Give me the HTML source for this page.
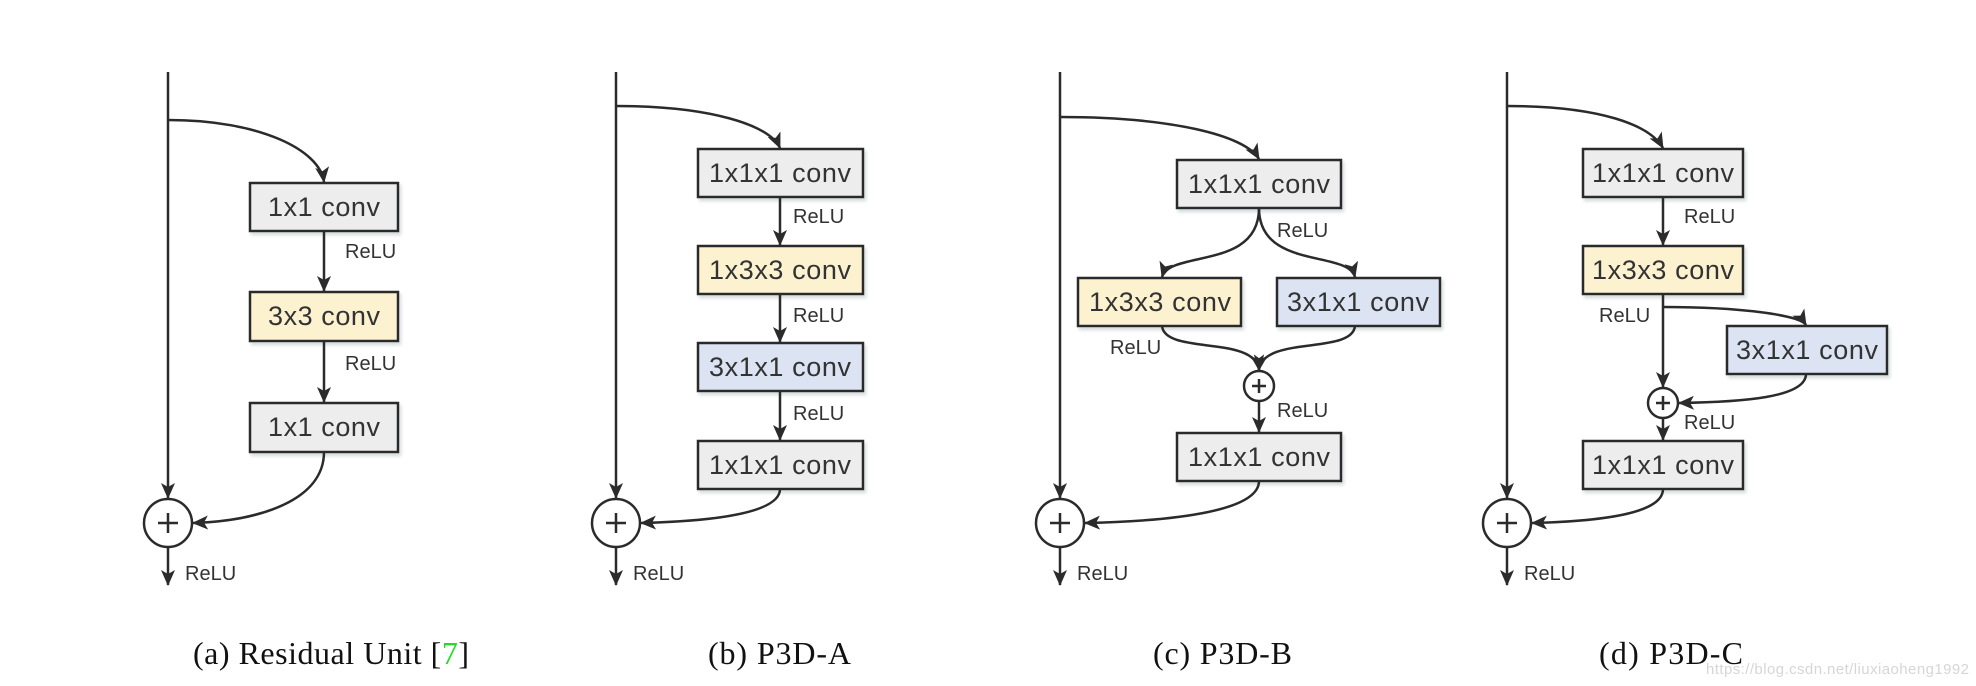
<!DOCTYPE html>
<html><head><meta charset="utf-8"><style>
html,body{margin:0;padding:0;background:#fff;}
svg{display:block;}
.b{stroke:#2b2b2b;stroke-width:2.5;}
.g{fill:#ededed}.y{fill:#fdf2d0}.u{fill:#dce3f3}
.t{font-family:"Liberation Sans Narrow","Liberation Sans",sans-serif;font-size:27px;fill:#333;text-anchor:middle;}
.r{font-family:"Liberation Sans Narrow","Liberation Sans",sans-serif;font-size:20px;fill:#333;}
.c{font-family:"Liberation Serif",serif;font-size:32px;fill:#111;}
.l{fill:none;stroke:#2b2b2b;stroke-width:2.5;}
</style></head><body>
<svg width="1976" height="686" viewBox="0 0 1976 686" xmlns="http://www.w3.org/2000/svg">
<defs>
<marker id="a" markerWidth="16" markerHeight="14" refX="15" refY="7" orient="auto" markerUnits="userSpaceOnUse">
<path d="M0,0 L16,7 L0,14 L4,7 Z" fill="#2b2b2b"/></marker>
<filter id="s" x="-5%" y="-5%" width="115%" height="125%"><feDropShadow dx="2" dy="3" stdDeviation="1.5" flood-color="#9aa" flood-opacity="0.4"/></filter>
</defs>

<!-- (a) -->
<line class="l" x1="168" y1="72" x2="168" y2="498" marker-end="url(#a)"/>
<circle class="l" cx="168" cy="523" r="24"/>
<path class="l" d="M158,523 H178 M168,513 V533"/>
<line class="l" x1="168" y1="547" x2="168" y2="585" marker-end="url(#a)"/>
<text class="r" x="185" y="580">ReLU</text>
<path class="l" d="M168,120 C260,120 320,150 324,182" marker-end="url(#a)"/>
<rect class="b g" x="250" y="183" width="148" height="48" filter="url(#s)"/>
<text class="t" x="324" y="216" textLength="112">1x1 conv</text>
<line class="l" x1="324" y1="231" x2="324" y2="291" marker-end="url(#a)"/>
<text class="r" x="345" y="258">ReLU</text>
<rect class="b y" x="250" y="292" width="148" height="49" filter="url(#s)"/>
<text class="t" x="324" y="325" textLength="112">3x3 conv</text>
<line class="l" x1="324" y1="341" x2="324" y2="402" marker-end="url(#a)"/>
<text class="r" x="345" y="370">ReLU</text>
<rect class="b g" x="250" y="403" width="148" height="49" filter="url(#s)"/>
<text class="t" x="324" y="436" textLength="112">1x1 conv</text>
<path class="l" d="M324,452 C324,500 260,521 193,523" marker-end="url(#a)"/>
<text class="c" x="193" y="664" textLength="276">(a)  Residual Unit [<tspan fill="#22dd22">7</tspan>]</text>

<!-- (b) -->
<line class="l" x1="616" y1="72" x2="616" y2="498" marker-end="url(#a)"/>
<circle class="l" cx="616" cy="523" r="24"/>
<path class="l" d="M606,523 H626 M616,513 V533"/>
<line class="l" x1="616" y1="547" x2="616" y2="585" marker-end="url(#a)"/>
<text class="r" x="633" y="580">ReLU</text>
<path class="l" d="M616,106 C710,106 770,125 780,148" marker-end="url(#a)"/>
<rect class="b g" x="698" y="149" width="165" height="48" filter="url(#s)"/>
<text class="t" x="780" y="182" textLength="142">1x1x1 conv</text>
<line class="l" x1="780" y1="197" x2="780" y2="245" marker-end="url(#a)"/>
<text class="r" x="793" y="223">ReLU</text>
<rect class="b y" x="698" y="246" width="165" height="48" filter="url(#s)"/>
<text class="t" x="780" y="279" textLength="142">1x3x3 conv</text>
<line class="l" x1="780" y1="294" x2="780" y2="342" marker-end="url(#a)"/>
<text class="r" x="793" y="322">ReLU</text>
<rect class="b u" x="698" y="343" width="165" height="48" filter="url(#s)"/>
<text class="t" x="780" y="376" textLength="142">3x1x1 conv</text>
<line class="l" x1="780" y1="391" x2="780" y2="440" marker-end="url(#a)"/>
<text class="r" x="793" y="420">ReLU</text>
<rect class="b g" x="698" y="441" width="165" height="48" filter="url(#s)"/>
<text class="t" x="780" y="474" textLength="142">1x1x1 conv</text>
<path class="l" d="M780,489 C780,512 720,521 641,523" marker-end="url(#a)"/>
<text class="c" x="708" y="664" textLength="143">(b)  P3D-A</text>

<!-- (c) -->
<line class="l" x1="1060" y1="72" x2="1060" y2="498" marker-end="url(#a)"/>
<circle class="l" cx="1060" cy="523" r="24"/>
<path class="l" d="M1050,523 H1070 M1060,513 V533"/>
<line class="l" x1="1060" y1="547" x2="1060" y2="585" marker-end="url(#a)"/>
<text class="r" x="1077" y="580">ReLU</text>
<path class="l" d="M1060,117 C1170,117 1245,135 1259,159" marker-end="url(#a)"/>
<rect class="b g" x="1177" y="160" width="164" height="48" filter="url(#s)"/>
<text class="t" x="1259" y="193" textLength="142">1x1x1 conv</text>
<text class="r" x="1277" y="237">ReLU</text>
<path class="l" d="M1259,208 C1259,270 1170,250 1162,277" marker-end="url(#a)"/>
<path class="l" d="M1259,208 C1259,270 1348,250 1355,277" marker-end="url(#a)"/>
<rect class="b y" x="1078" y="278" width="163" height="48" filter="url(#s)"/>
<text class="t" x="1160" y="311" textLength="142">1x3x3 conv</text>
<rect class="b u" x="1277" y="278" width="163" height="48" filter="url(#s)"/>
<text class="t" x="1358" y="311" textLength="142">3x1x1 conv</text>
<text class="r" x="1110" y="354">ReLU</text>
<path class="l" d="M1162,326 C1165,355 1255,335 1259,370" marker-end="url(#a)"/>
<path class="l" d="M1355,326 C1352,355 1263,335 1259,370" marker-end="url(#a)"/>
<circle class="l" cx="1259" cy="386" r="15"/>
<path class="l" d="M1252,386 H1266 M1259,379 V393"/>
<line class="l" x1="1259" y1="401" x2="1259" y2="432" marker-end="url(#a)"/>
<text class="r" x="1277" y="417">ReLU</text>
<rect class="b g" x="1177" y="433" width="164" height="48" filter="url(#s)"/>
<text class="t" x="1259" y="466" textLength="142">1x1x1 conv</text>
<path class="l" d="M1259,481 C1259,510 1180,521 1085,523" marker-end="url(#a)"/>
<text class="c" x="1153" y="664" textLength="139">(c)  P3D-B</text>

<!-- (d) -->
<line class="l" x1="1507" y1="72" x2="1507" y2="498" marker-end="url(#a)"/>
<circle class="l" cx="1507" cy="523" r="24"/>
<path class="l" d="M1497,523 H1517 M1507,513 V533"/>
<line class="l" x1="1507" y1="547" x2="1507" y2="585" marker-end="url(#a)"/>
<text class="r" x="1524" y="580">ReLU</text>
<path class="l" d="M1507,106 C1600,106 1650,125 1663,148" marker-end="url(#a)"/>
<rect class="b g" x="1583" y="149" width="160" height="48" filter="url(#s)"/>
<text class="t" x="1663" y="182" textLength="142">1x1x1 conv</text>
<line class="l" x1="1663" y1="197" x2="1663" y2="245" marker-end="url(#a)"/>
<text class="r" x="1684" y="223">ReLU</text>
<rect class="b y" x="1583" y="246" width="160" height="48" filter="url(#s)"/>
<text class="t" x="1663" y="279" textLength="142">1x3x3 conv</text>
<text class="r" x="1599" y="322">ReLU</text>
<line class="l" x1="1663" y1="294" x2="1663" y2="387" marker-end="url(#a)"/>
<path class="l" d="M1663,307 C1740,307 1800,315 1806,325" marker-end="url(#a)"/>
<rect class="b u" x="1727" y="326" width="160" height="48" filter="url(#s)"/>
<text class="t" x="1807" y="359" textLength="142">3x1x1 conv</text>
<circle class="l" cx="1663" cy="403" r="15"/>
<path class="l" d="M1656,403 H1670 M1663,396 V410"/>
<path class="l" d="M1806,374 C1806,398 1740,402 1679,403" marker-end="url(#a)"/>
<line class="l" x1="1663" y1="418" x2="1663" y2="440" marker-end="url(#a)"/>
<text class="r" x="1684" y="429">ReLU</text>
<rect class="b g" x="1583" y="441" width="160" height="48" filter="url(#s)"/>
<text class="t" x="1663" y="474" textLength="142">1x1x1 conv</text>
<path class="l" d="M1663,489 C1663,512 1610,521 1532,523" marker-end="url(#a)"/>
<text class="c" x="1599" y="664" textLength="144">(d)  P3D-C</text>
<text x="1706" y="674" textLength="263" style="font-family:'Liberation Sans',sans-serif;font-size:15px;fill:#d6d6d6">https://blog.csdn.net/liuxiaoheng1992</text>
</svg>
</body></html>
